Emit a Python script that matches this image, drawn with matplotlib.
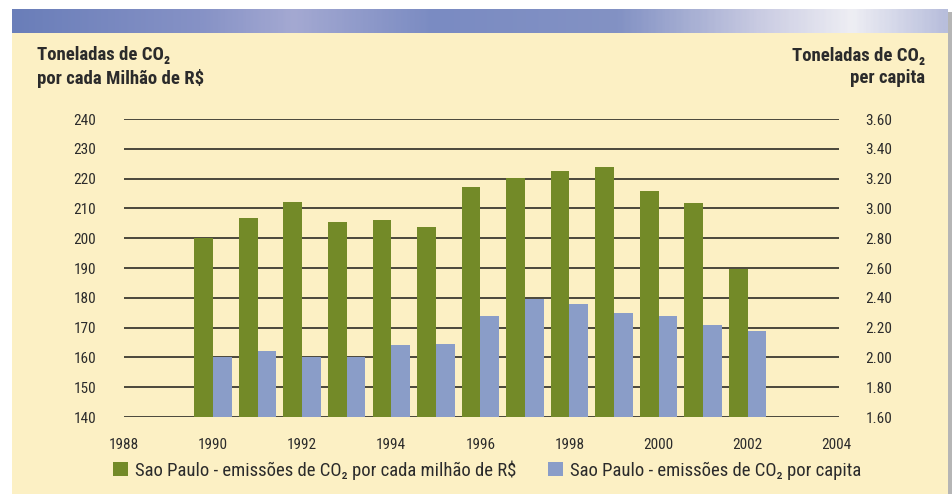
import numpy as np
import matplotlib
matplotlib.use("Agg")
import matplotlib.pyplot as plt
from matplotlib.patches import Rectangle, Patch
from matplotlib.colors import LinearSegmentedColormap

plt.rcParams['font.family'] = ['Liberation Sans Narrow', 'Roboto Condensed', 'Liberation Sans', 'DejaVu Sans']

# Dados: Sao Paulo, emissões de CO2
anos = np.arange(1990, 2003)
por_milhao = [200.0, 206.8, 212.1, 205.4, 206.1, 203.7, 217.1, 220.1, 222.4, 223.8, 215.8, 211.8, 189.8]
per_capita = [2.00, 2.04, 2.00, 2.00, 2.08, 2.09, 2.28, 2.39, 2.36, 2.30, 2.28, 2.22, 2.18]
ticks_esq = [140, 150, 160, 170, 180, 190, 200, 210, 220, 230, 240]
ticks_dir = [1.60, 1.80, 2.00, 2.20, 2.40, 2.60, 2.80, 3.00, 3.20, 3.40, 3.60]
ticks_anos = [1988, 1990, 1992, 1994, 1996, 1998, 2000, 2002, 2004]

verde = '#738a28'
azul = '#8a9dc8'
creme = '#fcf0c4'
texto = '#2b2b2b'

fig = plt.figure(figsize=(9.53, 4.94), dpi=100)
fig.patch.set_facecolor('white')

# painel creme com sombra a direita
fig.patches.append(Rectangle((948 / 953, 0), 5 / 953, 1 - 12 / 494, transform=fig.transFigure,
                             facecolor='#b5b5b5', edgecolor='none', zorder=-2))
fig.patches.append(Rectangle((12 / 953, 0), 936 / 953, 1 - 33 / 494, transform=fig.transFigure,
                             facecolor=creme, edgecolor='none', zorder=-1))

# faixa de céu no topo
ceu = LinearSegmentedColormap.from_list('ceu', [
    (0.0, '#6a7eb9'), (0.2, '#8692c6'), (0.3, '#a4a9d2'), (0.45, '#7a8bc2'),
    (0.65, '#8392c4'), (0.8, '#c9cbe2'), (0.9, '#eeeef4'), (1.0, '#b8bedc')])
ax_ceu = fig.add_axes([12 / 953, 1 - 33 / 494, 936 / 953, 24 / 494])
ax_ceu.imshow(np.linspace(0, 1, 400)[None, :], aspect='auto', cmap=ceu)
ax_ceu.axis('off')

ax = fig.add_axes([124 / 953, 1 - 417 / 494, 715 / 953, 298 / 494])
ax.set_facecolor('none')
largura = 0.42
ax.bar(anos - largura / 2, por_milhao, width=largura, color=verde, zorder=3)
ax.set_ylim(140, 240)
ax.set_xlim(1988.0, 2004.05)
ax.set_yticks(ticks_esq)
ax.set_xticks(ticks_anos)
ax.yaxis.grid(True, color='#3c3a30', linewidth=1.3, zorder=1)
ax.set_axisbelow(True)
for s in ax.spines.values():
    s.set_visible(False)
ax.tick_params(axis='y', length=0, pad=20, labelsize=11, labelcolor=texto)
ax.tick_params(axis='x', length=0, pad=15, labelsize=11, labelcolor=texto)

ax2 = ax.twinx()
ax2.bar(anos + largura / 2, per_capita, width=largura, color=azul, zorder=3)
ax2.set_ylim(1.6, 3.6)
ax2.set_yticks(ticks_dir)
ax2.set_yticklabels([f'{v:.2f}' for v in ticks_dir])
for s in ax2.spines.values():
    s.set_visible(False)
ax2.tick_params(axis='y', length=0, pad=19, labelsize=11, labelcolor=texto)

# títulos dos eixos
fig.text(37 / 953, 1 - 67 / 494, 'Toneladas de CO₂\npor cada Milhão de R$', fontsize=13.5,
         fontweight='bold', color=texto, ha='left', va='center', linespacing=1.3)
fig.text(925 / 953, 1 - 67 / 494, 'Toneladas de CO₂\nper capita', fontsize=13.5,
         fontweight='bold', color=texto, ha='right', va='center', linespacing=1.3, multialignment='right')

# legenda
handles = [Patch(facecolor=verde, label='Sao Paulo - emissões de CO₂ por cada milhão de R$'),
           Patch(facecolor=azul, label='Sao Paulo - emissões de CO₂ por capita')]
fig.legend(handles=handles, loc='center', bbox_to_anchor=(487 / 953, 1 - 470 / 494), ncol=2,
           frameon=False, fontsize=13.5, handlelength=0.8, handleheight=0.8, handletextpad=0.35,
           columnspacing=1.7, labelcolor=texto)

fig.savefig('out.png', dpi=100, facecolor=fig.get_facecolor())
